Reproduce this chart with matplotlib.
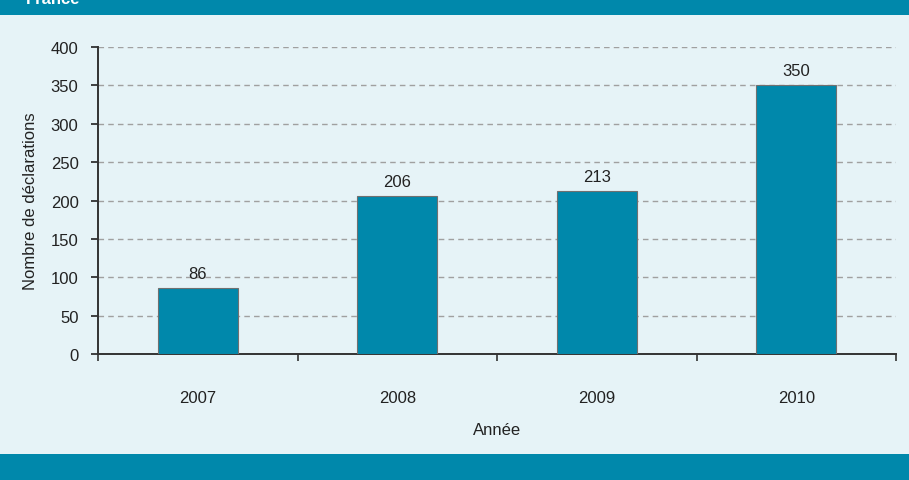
import numpy as np
import matplotlib.pyplot as plt
from matplotlib.patches import Rectangle

years = ['2007', '2008', '2009', '2010']
declarations = [86, 206, 213, 350]

BG = '#e6f3f7'
BLUE = '#0088ab'
TXT = '#222222'

plt.rcParams['font.family'] = ['Liberation Sans', 'DejaVu Sans']

fig = plt.figure(figsize=(9.09, 4.81), dpi=100, facecolor=BG)

# bandes de couleur haut et bas
fig.patches.append(Rectangle((0, 1 - 16/481), 1, 16/481, transform=fig.transFigure,
                             facecolor=BLUE, edgecolor='none', zorder=0))
fig.patches.append(Rectangle((0, 0), 1, 26/481, transform=fig.transFigure,
                             facecolor=BLUE, edgecolor='none', zorder=0))
fig.text(26/909, 1.0, 'France', color='white', fontsize=12, fontweight='bold',
         va='center', ha='left')

ax = fig.add_axes([98/909, 1 - 355/481, (896 - 98)/909, (355 - 48)/481])
ax.set_facecolor(BG)

x = np.arange(len(years))
ax.bar(x, declarations, width=0.4, color=BLUE, edgecolor='#707070',
       linewidth=0.8, zorder=3)
for xi, v in zip(x, declarations):
    ax.text(xi, v + 9, str(v), ha='center', va='bottom', fontsize=12, color=TXT)

ax.set_xlim(-0.5, len(years) - 0.5)
ax.set_ylim(0, 400)
ax.set_yticks(range(0, 401, 50))
ax.yaxis.grid(True, linestyle=(0, (4, 3)), color='#a0a0a0', linewidth=1, zorder=0)

ax.set_xticks(x)
ax.set_xticklabels(years)
ax.set_xticks(np.arange(-0.5, len(years)), minor=True)
ax.tick_params(axis='x', which='major', length=0, pad=26, labelsize=12, colors=TXT)
ax.tick_params(axis='x', which='minor', length=5, width=1.2, direction='out', color='#333333')
ax.tick_params(axis='y', length=5, width=1.2, direction='out', labelsize=12,
               colors=TXT, pad=9)

for s in ['top', 'right']:
    ax.spines[s].set_visible(False)
for s in ['left', 'bottom']:
    ax.spines[s].set_color('#333333')
    ax.spines[s].set_linewidth(1.4)

ax.set_xlabel('Année', fontsize=12, labelpad=12, color=TXT)
ax.set_ylabel('Nombre de déclarations', fontsize=12, labelpad=9, color=TXT)

fig.savefig('out.png', dpi=100, facecolor=BG)
